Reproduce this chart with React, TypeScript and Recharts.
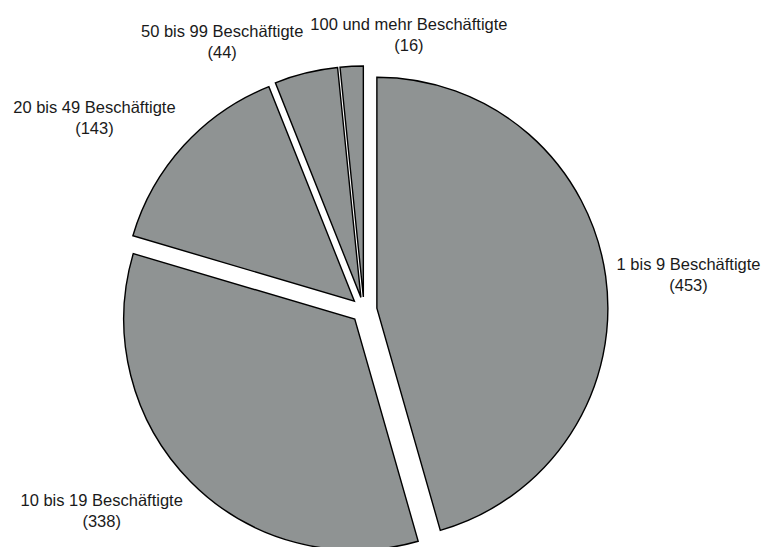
import React from 'react';
import { PieChart, Pie, Cell } from 'recharts';

// ---- data ----
const categories = [
  '1 bis 9 Beschäftigte',
  '10 bis 19 Beschäftigte',
  '20 bis 49 Beschäftigte',
  '50 bis 99 Beschäftigte',
  '100 und mehr Beschäftigte',
];
const counts = [453, 338, 143, 44, 16];

const data = categories.map((name, i) => ({ name, value: counts[i] }));

// ---- layout / style ----
const W = 761;
const H = 547;
const CX = 364;
const CY = 310;
const RADIUS = 231;
const EXPLODE = 13;
const LABEL_GAP = 11;
const FONT_SIZE = 16.5;
const LINE_H = 21;
const FONT_FAMILY = '"Liberation Sans", Arial, Helvetica, sans-serif';
const FILL = '#8f9393';
const STROKE = '#000000';
const START_ANGLE = 90;
const END_ANGLE = -270;
const RAD = Math.PI / 180;

const total = counts.reduce((a, b) => a + b, 0);

const midAngles: number[] = (() => {
  let acc = 0;
  return counts.map((v) => {
    const a = (v / total) * 360;
    const mid = START_ANGLE - (acc + a / 2);
    acc += a;
    return mid;
  });
})();

const unit = (deg: number) => ({ x: Math.cos(deg * RAD), y: -Math.sin(deg * RAD) });

let ctx: CanvasRenderingContext2D | null = null;
function measure(text: string): number {
  if (!ctx) {
    const c = document.createElement('canvas');
    ctx = c.getContext('2d');
  }
  if (!ctx) return text.length * FONT_SIZE * 0.5;
  ctx.font = `${FONT_SIZE}px ${FONT_FAMILY}`;
  return ctx.measureText(text).width;
}

type Box = { cx: number; cy: number; w: number; h: number };

function computeLabelBoxes(): Box[] {
  const boxes: Box[] = [];
  categories.forEach((name, i) => {
    const u = unit(midAngles[i]);
    const rr = RADIUS + EXPLODE + LABEL_GAP;
    const px = CX + rr * u.x;
    const py = CY + rr * u.y;
    const w = Math.max(measure(name), measure(`(${counts[i]})`));
    const h = 2 * LINE_H;
    const sx = Math.abs(u.x) > 0.2 ? Math.sign(u.x) : 0;
    const sy = Math.abs(u.y) > 0.2 ? Math.sign(u.y) : 0;
    let bx = px + (sx * w) / 2;
    const by = py + (sy * h) / 2;
    for (let j = 0; j < boxes.length; j++) {
      const b = boxes[j];
      const overlapX = Math.abs(bx - b.cx) < (w + b.w) / 2;
      const overlapY = Math.abs(by - b.cy) < (h + b.h) / 2;
      if (overlapX && overlapY) {
        if (bx >= b.cx) bx = b.cx + b.w / 2 + 7 + w / 2;
        else bx = b.cx - b.w / 2 - 7 - w / 2;
      }
    }
    boxes.push({ cx: bx, cy: by, w, h });
  });
  return boxes;
}

export default function App() {
  const boxes = React.useMemo(() => computeLabelBoxes(), []);

  const renderLabel = (props: any) => {
    let idx = typeof props.index === 'number' ? props.index : categories.indexOf(props.name);
    if (idx < 0) idx = categories.indexOf(props?.payload?.name);
    const b = boxes[idx];
    if (!b) return null;
    return (
      <g key={`lbl-${idx}`}>
        <text
          x={b.cx}
          y={b.cy - LINE_H / 2}
          textAnchor="middle"
          dominantBaseline="central"
          fontSize={FONT_SIZE}
          fontFamily={FONT_FAMILY}
          fill="#1a1a1a"
        >
          {categories[idx]}
        </text>
        <text
          x={b.cx}
          y={b.cy + LINE_H / 2}
          textAnchor="middle"
          dominantBaseline="central"
          fontSize={FONT_SIZE}
          fontFamily={FONT_FAMILY}
          fill="#1a1a1a"
        >
          {`(${counts[idx]})`}
        </text>
      </g>
    );
  };

  return (
    <div style={{ position: 'absolute', left: 0, top: 0, width: W, height: H, background: '#fff', overflow: 'hidden' }}>
      <PieChart width={W} height={H} margin={{ top: 0, right: 0, bottom: 0, left: 0 }}>
        {categories.map((_, k) => {
          const off = unit(midAngles[k]);
          return (
            <Pie
              key={`pie-${k}`}
              data={data}
              dataKey="value"
              nameKey="name"
              cx={CX + EXPLODE * off.x}
              cy={CY + EXPLODE * off.y}
              outerRadius={RADIUS}
              innerRadius={0}
              startAngle={START_ANGLE}
              endAngle={END_ANGLE}
              isAnimationActive={false}
              labelLine={false}
              label={k === 0 ? renderLabel : false}
            >
              {data.map((_, i) => (
                <Cell
                  key={`c-${k}-${i}`}
                  fill={i === k ? FILL : 'none'}
                  stroke={i === k ? STROKE : 'none'}
                  strokeWidth={i === k ? 1.4 : 0}
                />
              ))}
            </Pie>
          );
        })}
      </PieChart>
    </div>
  );
}
